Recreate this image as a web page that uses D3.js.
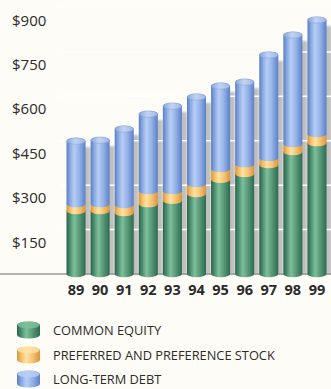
<!DOCTYPE html>
<html>
<head>
<meta charset="utf-8">
<script src="https://cdn.jsdelivr.net/npm/d3@7/dist/d3.min.js"></script>
<style>
  html, body { margin: 0; padding: 0; background: #fdfcf6; }
  svg { display: block; }
  text { font-family: "Open Sans", "Noto Sans", sans-serif; fill: #2b2b2b; }
</style>
</head>
<body>
<svg id="chart" width="331" height="389"></svg>
<script>
// Capitalization, $ millions
const years = ["89", "90", "91", "92", "93", "94", "95", "96", "97", "98", "99"];
const commonEquity = [213, 213, 206, 236, 247, 270, 318, 338, 368, 412, 442];
const preferredStock = [23, 23, 27, 44, 33, 34, 37, 33, 24, 27, 31];
const longTermDebt = [213, 216, 257, 260, 287, 294, 280, 277, 348, 368, 385];
const yTicks = [150, 300, 450, 600, 750, 900];

const seriesKeys = ["common", "preferred", "debt"];
const seriesLabels = ["COMMON EQUITY", "PREFERRED AND PREFERENCE STOCK", "LONG-TERM DEBT"];

const rows = years.map((yr, i) => ({
  year: yr,
  common: commonEquity[i],
  preferred: preferredStock[i],
  debt: longTermDebt[i]
}));

const svg = d3.select("#chart");
const W = 331, H = 389;

const x = d3.scaleBand().domain(years).range([66.5, 326.5]).paddingInner(0.21).paddingOuter(0);
const y = d3.scaleLinear().domain([0, 900]).range([274, 7.5]);

const bw = x.bandwidth();
const rx = bw / 2, ry = 3.2;

// Cylinder shading: dark edges, bright band left of centre
const defs = svg.append("defs");
const palettes = {
  common:    ["#2a6249", "#4f9273", "#7fbf9b", "#5a9c7b", "#2e6a4e"],
  preferred: ["#d9963a", "#f6c169", "#ffe2a3", "#f8c777", "#d8953c"],
  debt:      ["#5a7ec3", "#8aabe4", "#b8cdf3", "#96b5ea", "#5c80c5"]
};
Object.entries(palettes).forEach(([k, c]) => {
  const g = defs.append("linearGradient").attr("id", "grad-" + k)
    .attr("x1", 0).attr("x2", 1).attr("y1", 0).attr("y2", 0);
  [0, 0.2, 0.4, 0.65, 1].forEach((o, i) =>
    g.append("stop").attr("offset", o).attr("stop-color", c[i]));
});
const capGrad = defs.append("linearGradient").attr("id", "grad-cap")
  .attr("x1", 0).attr("x2", 1).attr("y1", 0).attr("y2", 0);
[["#86a6dc", 0], ["#c2d4f3", 0.45], ["#9db8e6", 1]].forEach(([c, o]) =>
  capGrad.append("stop").attr("offset", o).attr("stop-color", c));
defs.append("filter").attr("id", "soft")
  .append("feGaussianBlur").attr("stdDeviation", 1.2);

// Drop shadows behind the columns
const stacked = d3.stack().keys(seriesKeys)(rows);
const totals = rows.map(r => r.common + r.preferred + r.debt);

svg.append("g").attr("filter", "url(#soft)")
  .selectAll("rect").data(rows).join("rect")
  .attr("x", (d, i) => x(d.year) + 5)
  .attr("y", (d, i) => y(totals[i]) + 6)
  .attr("width", bw)
  .attr("height", (d, i) => y(0) - y(totals[i]) - 6)
  .attr("fill", "#bfbfbf");

// Gridlines (white, only visible against the shadows)
svg.append("g").selectAll("line").data(yTicks).join("line")
  .attr("x1", 60).attr("x2", W)
  .attr("y1", d => y(d)).attr("y2", d => y(d))
  .attr("stroke", "#ffffff").attr("stroke-width", 1.5);

// Baseline
svg.append("line")
  .attr("x1", 0).attr("x2", W)
  .attr("y1", y(0)).attr("y2", y(0))
  .attr("stroke", "#6b6b6b").attr("stroke-width", 1.2);

// Y tick labels sit just below their gridline
svg.append("g").selectAll("text").data(yTicks).join("text")
  .attr("x", 12)
  .attr("y", d => y(d) + 18)
  .attr("font-size", 15)
  .text(d => "$" + d);

// Cylinder segment: body plus top ellipse, with curved front bottom edge
function segPath(x0, yTop, yBot) {
  const x1 = x0 + bw;
  return `M${x0},${yTop} L${x0},${yBot} A${rx},${ry} 0 0 0 ${x1},${yBot} ` +
         `L${x1},${yTop} A${rx},${ry} 0 0 0 ${x0},${yTop} Z`;
}

const layers = svg.append("g");
stacked.forEach(layer => {
  layers.append("g").selectAll("path").data(layer).join("path")
    .attr("d", d => segPath(x(d.data.year), y(d[1]), y(d[0])))
    .attr("fill", `url(#grad-${layer.key})`);
});

// Top caps of the columns
svg.append("g").selectAll("ellipse").data(rows).join("ellipse")
  .attr("cx", d => x(d.year) + rx)
  .attr("cy", (d, i) => y(totals[i]))
  .attr("rx", rx - 0.3).attr("ry", ry)
  .attr("fill", "url(#grad-cap)")
  .attr("stroke", "#7e9fd6").attr("stroke-width", 0.5);

// Year labels
svg.append("g").selectAll("text").data(years).join("text")
  .attr("x", d => x(d) + bw / 2)
  .attr("y", 295)
  .attr("text-anchor", "middle")
  .attr("font-size", 14.5)
  .attr("font-weight", 700)
  .attr("fill", "#1e1e1e")
  .text(d => d);

// Legend
const legendY = [330, 355, 379];
const lg = svg.append("g");
seriesKeys.forEach((k, i) => {
  const cy = legendY[i];
  const sx = 17, sw = 23, top = cy - 5, bot = cy + 5;
  lg.append("path")
    .attr("d", `M${sx},${top} L${sx},${bot} A${sw / 2},3.5 0 0 0 ${sx + sw},${bot} ` +
               `L${sx + sw},${top} A${sw / 2},3.5 0 0 0 ${sx},${top} Z`)
    .attr("fill", `url(#grad-${k})`);
  lg.append("ellipse")
    .attr("cx", sx + sw / 2).attr("cy", top).attr("rx", sw / 2 - 0.3).attr("ry", 3.5)
    .attr("fill", palettes[k][2]).attr("opacity", 0.85);
  lg.append("text")
    .attr("x", 53).attr("y", cy + 4.5)
    .attr("font-size", 12.8)
    .text(seriesLabels[i]);
});
</script>
</body>
</html>
